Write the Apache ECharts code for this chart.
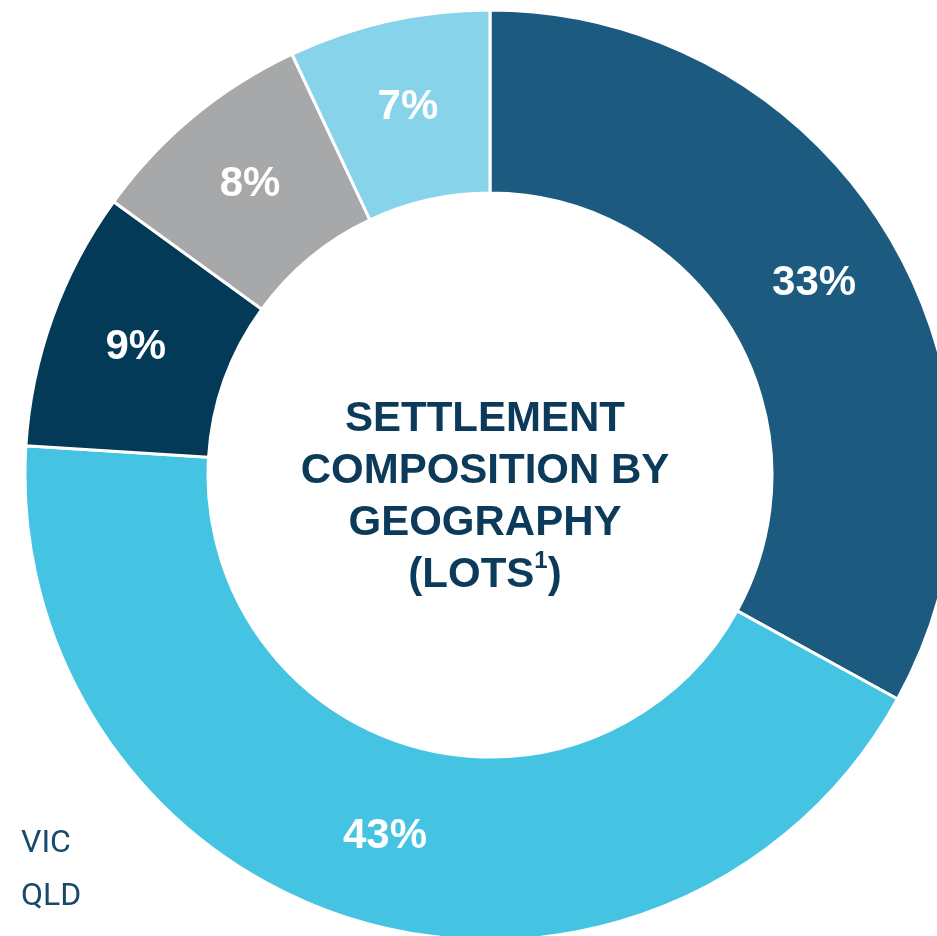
<!DOCTYPE html>
<html>
<head>
<meta charset="utf-8">
<style>
  html, body { margin: 0; padding: 0; background: #ffffff; }
  #chart { width: 937px; height: 936px; }
</style>
<script src="https://cdn.jsdelivr.net/npm/echarts@6/dist/echarts.min.js"></script>
</head>
<body>
<div id="chart"></div>
<script>
// Settlement share by geography, percent of lots (clockwise from 12 o'clock)
const shareValues = [33, 43, 9, 8, 7];
const sliceColors = ['#1c5a7f', '#44c4e2', '#033a58', '#a7a8aa', '#87d3ea'];
const centreTitle = ['SETTLEMENT', 'COMPOSITION BY', 'GEOGRAPHY', '(LOTS{s|1})'];
const legendLabels = ['VIC', 'QLD'];

const chart = echarts.init(document.getElementById('chart'), null, { renderer: 'canvas' });

const pieData = shareValues.map((v, i) => ({
  value: v,
  itemStyle: { color: sliceColors[i] }
}));

const titleFont = '"Liberation Sans", Arial, sans-serif';

const graphics = [
  {
    type: 'text',
    x: 485,
    y: 497,
    z: 10,
    style: {
      text: centreTitle.map(line => '{t|' + line.replace('{s|1}', '}{s|1}{t|') + '}').join('\n'),
      align: 'center',
      verticalAlign: 'middle',
      rich: {
        t: {
          fill: '#0b3a5a',
          fontFamily: titleFont,
          fontWeight: 'bold',
          fontSize: 42,
          lineHeight: 52
        },
        s: {
          fill: '#0b3a5a',
          fontFamily: titleFont,
          fontWeight: 'bold',
          fontSize: 24,
          lineHeight: 40,
          verticalAlign: 'top'
        }
      }
    }
  }
];

legendLabels.forEach((name, i) => {
  graphics.push({
    type: 'text',
    x: 21,
    y: 844 + i * 53,
    z: 10,
    style: {
      text: name,
      align: 'left',
      verticalAlign: 'middle',
      fill: '#17496a',
      font: '32px Roboto, "Liberation Sans", sans-serif'
    }
  });
});

chart.setOption({
  animation: false,
  backgroundColor: '#ffffff',
  graphic: graphics,
  series: [
    {
      type: 'pie',
      center: [490, 475],
      radius: [282, 465],
      startAngle: 90,
      clockwise: true,
      avoidLabelOverlap: false,
      silent: true,
      itemStyle: { borderColor: '#ffffff', borderWidth: 3 },
      label: {
        show: true,
        position: 'inside',
        formatter: '{c}%',
        color: '#ffffff',
        fontFamily: titleFont,
        fontWeight: 'bold',
        fontSize: 42
      },
      labelLine: { show: false },
      emphasis: { disabled: true },
      data: pieData
    }
  ]
});
</script>
</body>
</html>
